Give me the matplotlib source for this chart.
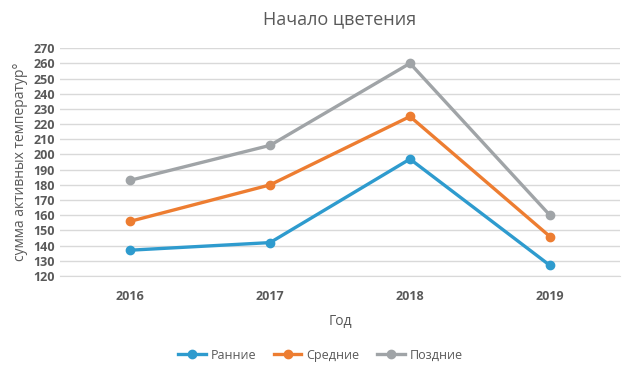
import matplotlib
matplotlib.use("Agg")
import matplotlib.pyplot as plt

# Data
years = ["2016", "2017", "2018", "2019"]
early = [137, 142, 197, 127]
middle = [156, 180, 225, 146]
late = [183, 206, 260, 160]
series_names = ["Ранние", "Средние", "Поздние"]
colors = ["#2E9BCE", "#ED7D31", "#A0A4A7"]

plt.rcParams["font.family"] = ["Open Sans", "DejaVu Sans"]

fig = plt.figure(figsize=(6.41, 3.73), dpi=100)
ax = fig.add_axes([0.094, 0.26, 0.873, 0.611])

x = range(len(years))
for vals, name, c in zip([early, middle, late], series_names, colors):
    ax.plot(x, vals, color=c, lw=2.4, marker="o", ms=6, label=name)

ax.set_xlim(-0.5, len(years) - 0.5)
ax.set_ylim(120, 270)
ax.set_yticks(range(120, 271, 10))
ax.set_xticks(list(x))
ax.set_xticklabels(years)
ax.grid(axis="y", color="#D9D9D9", lw=1)
ax.set_axisbelow(True)
for s in ["top", "right", "left"]:
    ax.spines[s].set_visible(False)
ax.spines["bottom"].set_color("#D9D9D9")
ax.tick_params(length=0, colors="#595959", labelsize=9)
for lbl in ax.get_xticklabels() + ax.get_yticklabels():
    lbl.set_fontweight("bold")
ax.tick_params(axis="x", pad=10)
ax.tick_params(axis="y", pad=4)

ax.set_title("Начало цветения", color="#595959", fontsize=13, pad=17)
ax.set_xlabel("Год", color="#595959", fontsize=10, labelpad=8)
ax.set_ylabel("сумма активных температур°", color="#595959", fontsize=10, labelpad=4)

fig.legend(loc="lower center", bbox_to_anchor=(0.5, 0.0), ncol=3, frameon=False,
           fontsize=9, labelcolor="#595959", handlelength=2.2, handletextpad=0.4,
           columnspacing=1.4)

fig.savefig("out.png", dpi=100)
